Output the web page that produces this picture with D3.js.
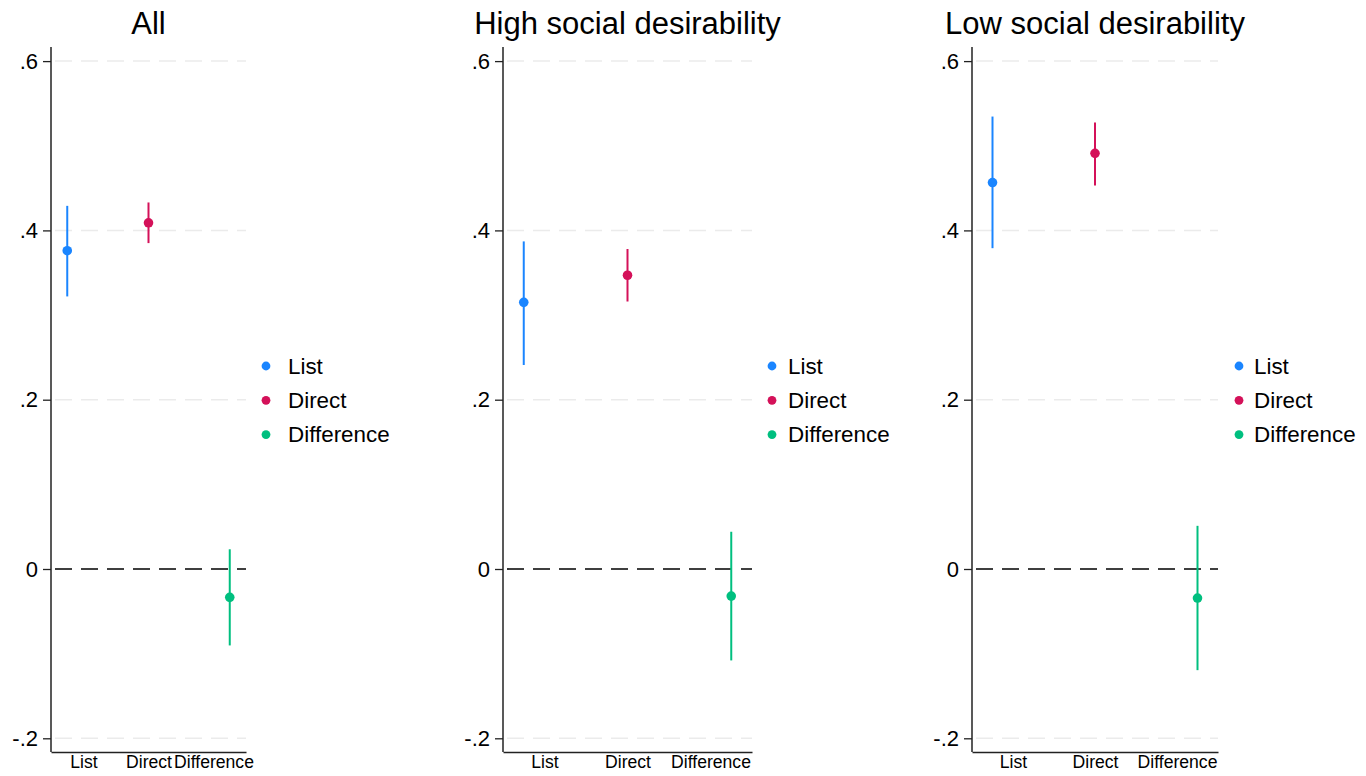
<!DOCTYPE html>
<html>
<head>
<meta charset="utf-8">
<script src="https://cdn.jsdelivr.net/npm/d3@7"></script>
<style>
  body { margin: 0; background: #fff; }
  svg { font-family: "Liberation Sans", Arial, sans-serif; }
</style>
</head>
<body>
<svg width="1366" height="776"></svg>
<script>
// chart data
var categories = ["List", "Direct", "Difference"];
var panelTitles = ["All", "High social desirability", "Low social desirability"];
var estimates = [
	[0.376, 0.409, -0.0335],
	[0.315, 0.347, -0.032],
	[0.4565, 0.491, -0.0343]
];
var ciLow = [
	[0.322, 0.385, -0.0903],
	[0.241, 0.316, -0.108],
	[0.379, 0.453, -0.1195]
];
var ciHigh = [
	[0.429, 0.433, 0.0233],
	[0.387, 0.378, 0.044],
	[0.5345, 0.5275, 0.051]
];
var yTicks = [-0.2, 0, 0.2, 0.4, 0.6];
var yTickLabels = ["-.2", "0", ".2", ".4", ".6"];
var seriesOffsets = [-0.25, 0, 0.25]; // coefplot style shift of each series
var colors = ["#1a85ff", "#d41159", "#00bf7f"];

// layout of each panel (plot region + legend)
var panels = [
	{ left: 51, right: 246, legDot: 266, legText: 288 },
	{ left: 503, right: 752, legDot: 772, legText: 788 },
	{ left: 972, right: 1218, legDot: 1239, legText: 1254 }
];
var plotTop = 47, plotBottom = 752;

var svg = d3.select("svg");

// .2 per 169.3 px, zero at y=569
var y = d3.scaleLinear().domain([-0.2, 0.6]).range([569 + 169.3, 569 - 3 * 169.3]);

panels.forEach(function(p, i){
	var g = svg.append("g");
	var x = d3.scaleLinear().domain([0.5, 3.5]).range([p.left, p.right]);

	// grid lines
	g.selectAll("line.grid")
		.data(yTicks.filter(function(t){ return t != 0; }))
		.enter().append("line")
		.attr("class", "grid")
		.attr("x1", p.left).attr("x2", p.right)
		.attr("y1", function(d){ return y(d); })
		.attr("y2", function(d){ return y(d); })
		.attr("stroke", "#ebebeb")
		.attr("stroke-width", 1.5)
		.attr("stroke-dasharray", "17,9")
		.attr("stroke-dashoffset", -4);

	// zero reference line
	g.append("line")
		.attr("x1", p.left).attr("x2", p.right)
		.attr("y1", y(0)).attr("y2", y(0))
		.attr("stroke", "#000")
		.attr("stroke-width", 1.6)
		.attr("stroke-dasharray", "17,9")
		.attr("stroke-dashoffset", -4);

	// y axis
	var yAxis = d3.axisLeft(y)
		.tickValues(yTicks)
		.tickFormat(function(d, k){ return yTickLabels[k]; })
		.tickSize(8)
		.tickPadding(5)
		.tickSizeOuter(0);
	var ya = g.append("g")
		.attr("transform", "translate(" + p.left + ",0)")
		.call(yAxis);
	ya.select(".domain").remove();
	ya.selectAll("line").attr("stroke", "#222").attr("stroke-width", 1.3);
	ya.selectAll("text").attr("font-size", 22).attr("fill", "#000")
		.attr("font-family", "Liberation Sans, Arial, sans-serif");
	g.append("line")
		.attr("x1", p.left).attr("x2", p.left)
		.attr("y1", plotTop).attr("y2", plotBottom)
		.attr("stroke", "#222").attr("stroke-width", 1.5);

	// x axis
	var xAxis = d3.axisBottom(x)
		.tickValues([1, 2, 3])
		.tickFormat(function(d){ return categories[d - 1]; })
		.tickSize(0)
		.tickPadding(4)
		.tickSizeOuter(0);
	var xa = g.append("g")
		.attr("transform", "translate(0," + plotBottom + ")")
		.call(xAxis);
	xa.select(".domain").attr("stroke", "#222").attr("stroke-width", 1.5);
	xa.selectAll("text").attr("font-size", 17.6).attr("fill", "#000")
		.attr("font-family", "Liberation Sans, Arial, sans-serif");

	// confidence intervals and point estimates
	categories.forEach(function(c, j){
		var cx = x(j + 1 + seriesOffsets[j]);
		g.append("line")
			.attr("x1", cx).attr("x2", cx)
			.attr("y1", y(ciLow[i][j])).attr("y2", y(ciHigh[i][j]))
			.attr("stroke", colors[j]).attr("stroke-width", 2);
		g.append("circle")
			.attr("cx", cx).attr("cy", y(estimates[i][j]))
			.attr("r", 4.8)
			.attr("fill", colors[j]);
	});

	// title
	g.append("text")
		.attr("x", (p.left + p.right) / 2)
		.attr("y", 34)
		.attr("text-anchor", "middle")
		.attr("font-size", 31)
		.text(panelTitles[i]);

	// legend
	categories.forEach(function(c, j){
		var ly = 366 + j * 34.3;
		g.append("circle").attr("cx", p.legDot).attr("cy", ly).attr("r", 4.4).attr("fill", colors[j]);
		g.append("text").attr("x", p.legText).attr("y", ly + 7.5)
			.attr("font-size", 22.4).text(c);
	});
});
</script>
</body>
</html>
